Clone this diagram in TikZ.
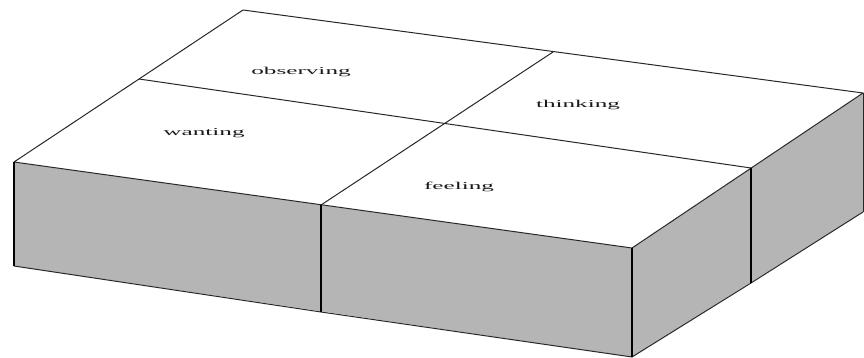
\documentclass[tikz,border=0pt]{standalone}
\usepackage{fontspec}
\setmainfont{Liberation Serif}
\definecolor{facegray}{RGB}{181,181,181}
\definecolor{edgegray}{RGB}{40,40,40}
\begin{document}
\begin{tikzpicture}[x=1pt,y=-1pt,
  edge/.style={draw=edgegray, line width=1pt, line join=round},
  post/.style={draw=black, line width=2pt},
  face/.style={fill=facegray},
  lab/.style={inner sep=0pt, font=\fontsize{10.5}{12}\selectfont, text=black!90}]
\useasboundingbox (0,0) rectangle (864,358);
% top corners
\coordinate (T) at (243,10);
\coordinate (R) at (863,93);
\coordinate (F) at (632,248);
\coordinate (L) at (14,162);
% midpoints of top edges
\coordinate (mTL) at (139,79);
\coordinate (mTR) at (553,52);
\coordinate (mRF) at (751,168);
\coordinate (mLF) at (321,205);
% bottom points
\coordinate (Lb) at (14,266);
\coordinate (mLFb) at (321,312);
\coordinate (Fb) at (632,357);
\coordinate (mRFb) at (751,283);
\coordinate (Rb) at (863,212);
% faces
\fill[face] (L) -- (F) -- (Fb) -- (Lb) -- cycle;
\fill[face] (F) -- (R) -- (Rb) -- (Fb) -- cycle;
\fill[white] (T) -- (R) -- (F) -- (L) -- cycle;
% top face outline and dividers
\draw[edge] (L) -- (T) -- (R) -- (F) -- (L);
\draw[edge] (mTL) -- (mRF);
\draw[edge] (mTR) -- (mLF);
% bottom edges
\draw[edge] (Lb) -- (mLFb) -- (Fb) -- (mRFb) -- (Rb);
\draw[edge] (R) -- (Rb);
% vertical posts
\draw[post] (L) -- (Lb);
\draw[post] (mLF) -- (mLFb);
\draw[post] (F) -- (Fb);
\draw[post] (mRF) -- (mRFb);
% labels
\node[lab] (observing) at (301,72) {\scalebox{2.4}[1]{observing}};
\node[lab] (thinking) at (578,105) {\scalebox{2.4}[1]{thinking}};
\node[lab] (wanting) at (204,133) {\scalebox{2.4}[1]{wanting}};
\node[lab] (feeling) at (459,187) {\scalebox{2.4}[1]{feeling}};
\end{tikzpicture}
\end{document}
